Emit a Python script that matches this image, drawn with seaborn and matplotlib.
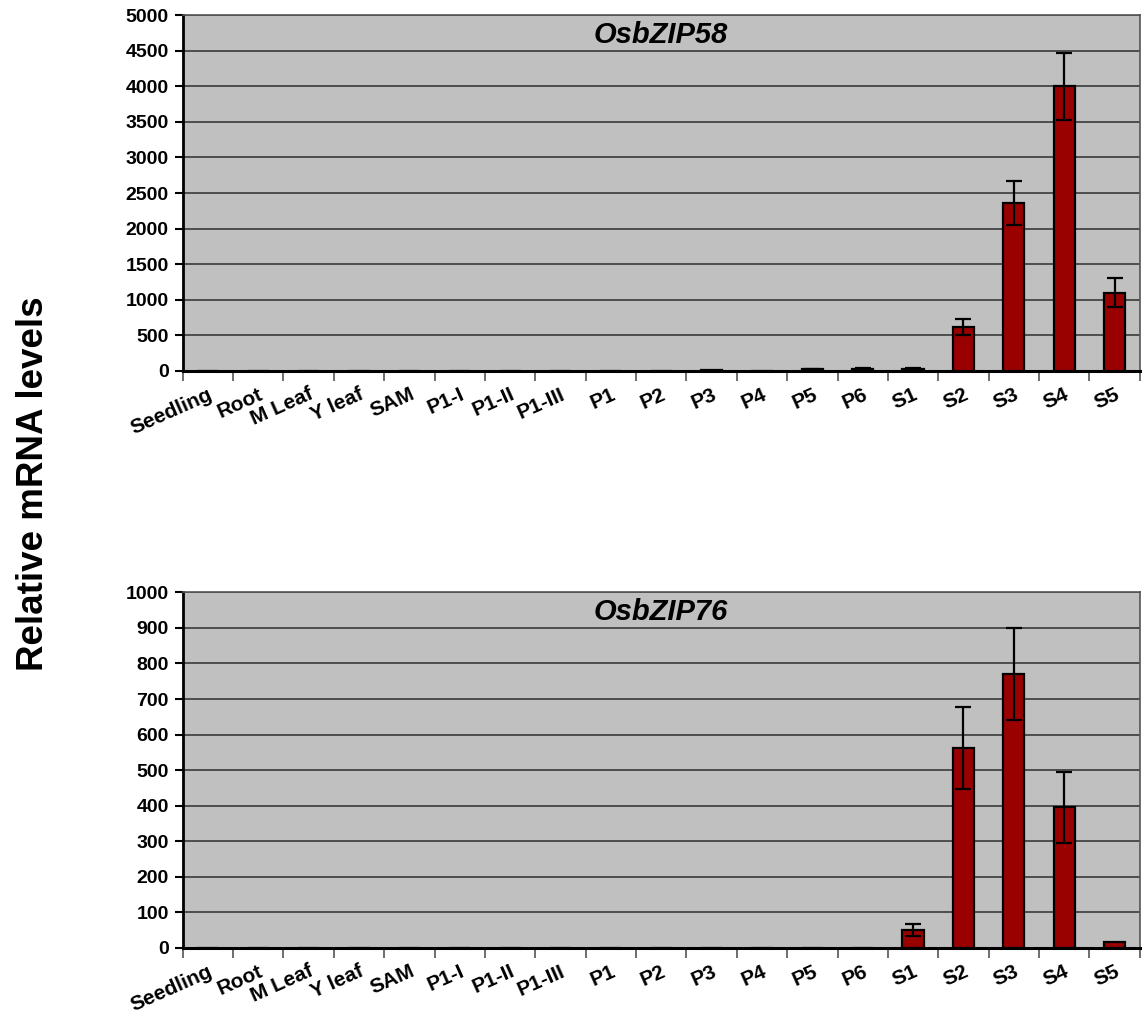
import matplotlib
matplotlib.use("Agg")
import matplotlib.pyplot as plt
import matplotlib.transforms as mtransforms
import seaborn as sns
import pandas as pd
import numpy as np
from matplotlib.ticker import MultipleLocator, FixedLocator

categories = ["Seedling", "Root", "M Leaf", "Y leaf", "SAM", "P1-I", "P1-II", "P1-III",
              "P1", "P2", "P3", "P4", "P5", "P6", "S1", "S2", "S3", "S4", "S5"]

zip58_values = [3, 2, 3, 2, 3, 2, 2, 3, 2, 3, 5, 4, 20, 28, 28, 620, 2360, 4000, 1100]
zip58_errors = [0, 0, 0, 0, 0, 0, 0, 0, 0, 0, 0, 0, 5, 6, 6, 110, 305, 470, 200]

zip76_values = [0.3, 0.2, 0.3, 0.2, 0.3, 0.2, 0.2, 0.2, 0.2, 0.2, 0.3, 0.3, 0.3, 0.3, 50, 562, 770, 395, 18]
zip76_errors = [0, 0, 0, 0, 0, 0, 0, 0, 0, 0, 0, 0, 0, 0, 16, 115, 130, 100, 0]

titles = ["OsbZIP58", "OsbZIP76"]
ylims = [5000, 1000]
ysteps = [500, 100]

sns.set_theme(style="white")
plt.rcParams['font.family'] = ['Liberation Sans', 'DejaVu Sans']
plt.rcParams['font.weight'] = 'bold'
plt.rcParams['text.color'] = 'black'
plt.rcParams['xtick.color'] = 'black'
plt.rcParams['ytick.color'] = 'black'
plt.rcParams['xtick.labelcolor'] = 'black'
plt.rcParams['ytick.labelcolor'] = 'black'

fig = plt.figure(figsize=(11.42, 10.16), dpi=100)
ax1 = fig.add_axes([0.160, 0.635, 0.838, 0.350])
ax2 = fig.add_axes([0.160, 0.067, 0.838, 0.350])

for ax, vals, errs, title, ymax, step in zip(
        [ax1, ax2], [zip58_values, zip76_values], [zip58_errors, zip76_errors],
        titles, ylims, ysteps):
    df = pd.DataFrame({"tissue": categories, "value": vals})
    sns.barplot(data=df, x="tissue", y="value", ax=ax, color="#990000",
                saturation=1, width=0.42, edgecolor="black", linewidth=1.6, zorder=3)
    xs = np.arange(len(categories))
    e = np.array(errs)
    mask = e > 0
    ax.errorbar(xs[mask], np.array(vals)[mask], yerr=e[mask], fmt="none",
                ecolor="black", elinewidth=1.6, capsize=6, capthick=1.6, zorder=4)
    ax.set_facecolor("#C0C0C0")
    ax.set_xlim(-0.5, len(categories) - 0.5)
    ax.set_ylim(0, ymax)
    ax.yaxis.set_major_locator(MultipleLocator(step))
    ax.grid(axis="y", color="#3a3a3a", linewidth=1.2, zorder=0)
    ax.set_axisbelow(True)
    ax.set_xlabel("")
    ax.set_ylabel("")
    for side in ["top", "right", "left", "bottom"]:
        ax.spines[side].set_visible(True)
        ax.spines[side].set_color("black")
    ax.spines["left"].set_linewidth(2)
    ax.spines["bottom"].set_linewidth(2.2)
    ax.spines["top"].set_linewidth(1.2)
    ax.spines["right"].set_linewidth(1.2)
    ax.spines["top"].set_color("#555555")
    ax.spines["right"].set_color("#555555")
    ax.set_xticks(xs)
    ax.set_xticklabels(categories, rotation=24, ha="right", va="top",
                       rotation_mode="anchor", fontsize=15, fontweight="bold")
    offset = mtransforms.ScaledTranslation(9 / 100, 0, fig.dpi_scale_trans)
    for lab in ax.get_xticklabels():
        lab.set_transform(lab.get_transform() + offset)
    ax.tick_params(axis="x", which="major", length=0, pad=10)
    ax.xaxis.set_minor_locator(FixedLocator(np.arange(-0.5, len(categories), 1.0)))
    ax.tick_params(axis="x", which="minor", length=7, width=1.2, color="#555555",
                   direction="out", bottom=True)
    ax.tick_params(axis="y", which="major", length=6, width=1.5, color="black",
                   direction="out", left=True, labelsize=14, pad=4)
    for lab in ax.get_yticklabels():
        lab.set_fontweight("bold")
    ax.text(0.5, 0.985, title, transform=ax.transAxes, ha="center", va="top",
            fontsize=21, fontweight="bold", fontstyle="italic", zorder=5)

fig.text(0.029, 0.524, "Relative mRNA levels", rotation=90, ha="center", va="center",
         fontsize=26.5, fontweight="bold")

fig.savefig("out.png", dpi=100, facecolor="white")
